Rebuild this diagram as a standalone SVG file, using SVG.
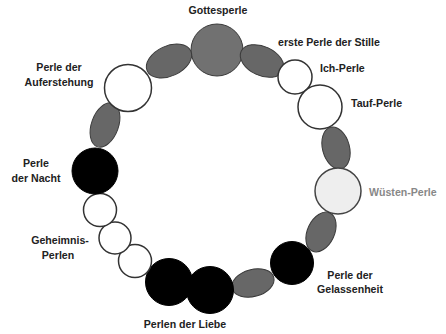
<svg xmlns="http://www.w3.org/2000/svg" width="446" height="334" viewBox="0 0 446 334">
<style>
.t{font-family:"Liberation Sans",Arial,sans-serif;font-weight:bold;font-size:10.6px;fill:#222}
.tl{font-family:"Liberation Sans",Arial,sans-serif;font-weight:bold;font-size:10.6px;fill:#888}
.g{fill:#676767;stroke:#3a3a3a;stroke-width:1}
.w{fill:#fff;stroke:#333;stroke-width:1.5}
.b{fill:#000;stroke:#000;stroke-width:1}
</style>
<rect width="446" height="334" fill="#fff"/>
<g id="gottesperle"><circle cx="217" cy="50" r="26" fill="#717171" stroke="#3a3a3a"/><text class="t" x="218" y="14" text-anchor="middle">Gottesperle</text></g>
<g id="stille"><ellipse class="g" cx="262" cy="61" rx="23" ry="14.5" transform="rotate(25 262 61)"/><text class="t" x="278" y="46">erste Perle der Stille</text></g>
<g id="ich"><circle class="w" cx="295" cy="77" r="17"/><text class="t" x="320" y="72">Ich-Perle</text></g>
<g id="tauf"><circle class="w" cx="320" cy="107" r="22"/><text class="t" x="351" y="107">Tauf-Perle</text></g>
<g id="stille2"><ellipse class="g" cx="336" cy="148" rx="13.5" ry="21.5" transform="rotate(-15 336 148)"/></g>
<g id="wueste"><circle cx="338" cy="191" r="23" fill="#eeeeee" stroke="#444" stroke-width="1.5"/><text class="tl" x="369" y="196">Wüsten-Perle</text></g>
<g id="stille3"><ellipse class="g" cx="321" cy="232" rx="13.5" ry="21" transform="rotate(25 321 232)"/></g>
<g id="gelassenheit"><circle class="b" cx="292" cy="263" r="21.5"/><text class="t" x="350" y="279" text-anchor="middle">Perle der</text><text class="t" x="350" y="293" text-anchor="middle">Gelassenheit</text></g>
<g id="stille4"><ellipse class="g" cx="253" cy="283" rx="21.5" ry="13.5" transform="rotate(-15 253 283)"/></g>
<g id="liebe"><circle class="b" cx="210" cy="290" r="23.5"/><circle class="b" cx="169" cy="282" r="23.5"/><text class="t" x="185" y="328" text-anchor="middle">Perlen der Liebe</text></g>
<g id="geheimnis"><circle class="w" cx="135" cy="261" r="16.5"/><circle class="w" cx="115" cy="238" r="16"/><circle class="w" cx="100" cy="210" r="16.5"/><text class="t" x="60" y="244" text-anchor="middle">Geheimnis-</text><text class="t" x="58" y="259" text-anchor="middle">Perlen</text></g>
<g id="nacht"><circle class="b" cx="95" cy="171" r="23"/><text class="t" x="36" y="167" text-anchor="middle">Perle</text><text class="t" x="36" y="182" text-anchor="middle">der Nacht</text></g>
<g id="stille5"><ellipse class="g" cx="105" cy="125" rx="13.5" ry="23" transform="rotate(20 105 125)"/></g>
<g id="auferstehung"><circle class="w" cx="128" cy="88" r="23.5"/><text class="t" x="59" y="71" text-anchor="middle">Perle der</text><text class="t" x="59" y="86" text-anchor="middle">Auferstehung</text></g>
<g id="stille6"><ellipse class="g" cx="169" cy="61" rx="24" ry="15" transform="rotate(-25 169 61)"/></g>
<g id="connectors"></g>
</svg>
